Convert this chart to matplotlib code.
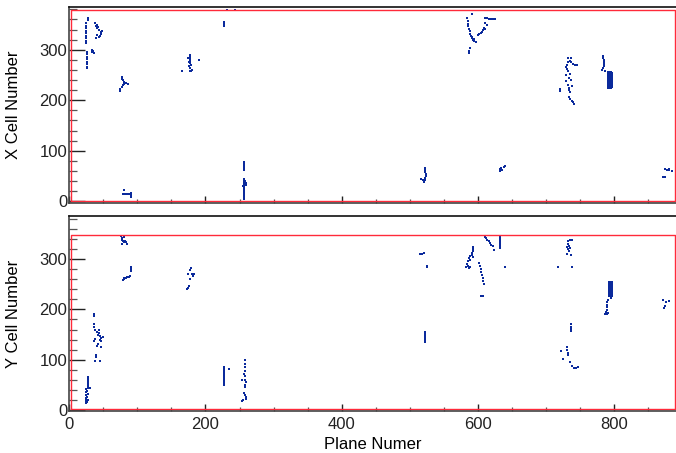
import numpy as np
import matplotlib
matplotlib.use("Agg")
import matplotlib.pyplot as plt
from matplotlib.ticker import MultipleLocator

plt.rcParams['font.family'] = ['Liberation Sans', 'DejaVu Sans']

# hits in the X view: (plane, cell)
xview_hits = [
    # planes ~25-48
    (25, 353), (25, 348), (25, 343), (25, 338), (25, 333), (25, 328), (25, 323), (25, 318), (25, 313),
    (26, 296), (26, 291), (26, 286), (26, 281), (26, 276), (26, 271), (26, 266), (26, 263), (28, 362), (27, 358),
    (38, 353), (39, 348), (40, 343), (42, 345), (44, 340), (46, 335), (47, 332), (45, 328), (41, 330),
    (39, 323), (43, 326), (48, 338), (40, 350), (33, 300), (35, 297), (37, 293), (34, 295),
    # plane ~80
    (78, 247), (78, 243), (79, 240), (80, 236), (81, 233), (84, 234), (86, 232), (79, 230), (77, 227),
    (75, 223), (74, 219),
    (80, 22), (79, 14), (81, 14), (83, 14), (85, 14), (87, 14), (90, 17), (90, 13), (90, 9),
    # plane ~177
    (177, 290), (177, 286), (178, 282), (178, 278), (177, 274), (179, 270), (176, 268), (178, 264),
    (177, 258), (179, 258), (180, 259), (165, 258), (191, 280), (175, 283), (176, 276),
    # plane ~230
    (227, 356), (227, 352), (227, 348), (231, 379), (243, 378),
    # plane ~257
    (257, 78), (257, 74), (257, 70), (257, 66), (257, 62), (257, 45), (257, 41), (257, 37), (257, 33),
    (257, 29), (257, 25), (257, 21), (257, 17), (257, 13), (257, 9), (257, 5), (259, 36), (260, 33),
    (258, 40), (255, 30),
    # plane ~523
    (523, 66), (523, 62), (523, 58), (524, 54), (524, 50), (523, 46), (522, 42), (521, 39), (517, 45), (519, 43),
    # planes ~584-626
    (584, 362), (585, 357), (585, 352), (586, 347), (587, 342), (588, 337), (589, 332), (590, 328),
    (591, 325), (592, 323), (594, 322), (593, 319), (595, 317), (597, 315), (591, 370), (588, 303),
    (587, 298), (587, 294), (600, 330), (602, 332), (604, 334), (606, 336), (608, 339), (610, 341),
    (609, 344), (610, 362), (613, 362), (616, 361), (619, 360), (622, 360), (625, 361), (613, 350), (611, 353),
    # plane ~635
    (632, 63), (634, 61), (634, 66), (636, 61), (638, 68), (640, 69), (633, 59),
    # planes ~720-745
    (733, 283), (737, 283), (733, 276), (735, 278), (737, 275), (740, 272), (743, 269), (745, 270),
    (731, 270), (730, 265), (731, 261), (733, 257), (735, 253), (729, 250), (734, 244), (737, 240),
    (729, 238), (720, 223), (721, 218), (733, 230), (734, 225), (734, 220), (736, 216), (738, 229),
    (734, 207), (736, 203), (738, 199), (740, 196), (741, 193),
    # planes ~783-798
    (784, 288), (784, 284), (785, 280), (785, 276), (785, 272), (785, 268), (784, 264), (783, 260), (786, 258),
    (791, 256), (791, 252), (791, 248), (791, 244), (791, 240), (791, 236), (791, 232), (791, 228), (791, 224),
    (793, 256), (793, 252), (793, 248), (793, 244), (793, 240), (793, 236), (793, 232), (793, 228), (793, 224),
    (795, 256), (795, 252), (795, 248), (795, 244), (795, 240), (795, 236), (795, 232), (795, 228), (795, 224),
    (797, 254), (797, 250), (797, 246), (797, 242), (797, 238), (797, 234), (797, 230), (797, 226),
    # plane ~878
    (875, 64), (878, 62), (881, 61), (885, 59), (880, 63), (872, 48), (875, 49),
]

# hits in the Y view: (plane, cell)
yview_hits = [
    (24, 13), (24, 17), (25, 20), (24, 23), (26, 26), (25, 29), (27, 32), (24, 35), (26, 38), (25, 41),
    (27, 43), (30, 44), (28, 48), (28, 52), (28, 56), (28, 60), (28, 64), (27, 66), (26, 16), (27, 20),
    (36, 190), (36, 186), (36, 170), (36, 166), (38, 160), (40, 155), (42, 150), (43, 160), (44, 153),
    (45, 148), (46, 144), (45, 140), (47, 138), (49, 145), (38, 141), (37, 137), (42, 131), (40, 128),
    (39, 106), (39, 110), (38, 97), (45, 97), (47, 126),
    (76, 346), (77, 342), (78, 338), (79, 335), (80, 333), (82, 336), (84, 334), (85, 331), (78, 331), (81, 344),
    (90, 285), (90, 281), (90, 277), (89, 267), (87, 265), (85, 264), (83, 262), (81, 261), (79, 259), (80, 262),
    (179, 282), (178, 278), (175, 270), (180, 270), (183, 271), (181, 266), (178, 260), (176, 247),
    (174, 243), (173, 240),
    (227, 86), (227, 82), (227, 78), (227, 74), (227, 70), (227, 66), (227, 62), (227, 58), (227, 54),
    (227, 50), (234, 82),
    (258, 99), (258, 92), (258, 85), (258, 78), (257, 72), (258, 68), (258, 60), (259, 55), (258, 50),
    (258, 46), (254, 60), (256, 34), (258, 30), (259, 26), (255, 20), (253, 18), (260, 22),
    (515, 310), (518, 311), (521, 312), (525, 287), (526, 285),
    (523, 156), (523, 152), (523, 148), (523, 144), (523, 140), (523, 136),
    (593, 325), (593, 321), (593, 317), (592, 313), (592, 309), (593, 305), (588, 306), (587, 302),
    (589, 298), (586, 297), (584, 290), (586, 287), (583, 284), (587, 282), (589, 284), (602, 292),
    (603, 286), (604, 280), (605, 274), (606, 268), (607, 262), (608, 256), (609, 250), (605, 227),
    (607, 226), (610, 344), (612, 341), (614, 338), (616, 335), (618, 332), (620, 329), (622, 326),
    (623, 318), (633, 346), (633, 342), (633, 338), (633, 334), (633, 330), (632, 326), (633, 322), (640, 284),
    (732, 336), (735, 337), (738, 337), (732, 330), (734, 327), (731, 324), (733, 320), (736, 322),
    (734, 316), (731, 311), (737, 309), (718, 284), (739, 284),
    (737, 170), (737, 166), (737, 162), (737, 157), (722, 118), (731, 126), (731, 120), (732, 114),
    (732, 109), (725, 101), (735, 96), (738, 88), (741, 83), (744, 84), (747, 85),
    (793, 254), (793, 250), (793, 246), (793, 242), (793, 238), (793, 234), (793, 230), (793, 226),
    (795, 255), (795, 251), (795, 247), (795, 243), (795, 239), (795, 235), (795, 231), (795, 227), (795, 223),
    (797, 254), (797, 250), (797, 246), (797, 242), (797, 238), (797, 234), (797, 230), (797, 226),
    (791, 219), (790, 214), (790, 209), (790, 204), (789, 199), (788, 194), (787, 190), (789, 191), (791, 192),
    (872, 219), (877, 214), (880, 217), (874, 202), (875, 206),
]

# detector boundary boxes (plane_lo, plane_hi, cell_lo, cell_hi)
xbox = (2.5, 889, 1, 379)
ybox = (2.5, 889, 1, 348)

hit_col = '#0b2a9c'
box_col = '#ff2a3a'

fig = plt.figure(figsize=(6.76, 4.53), dpi=100)
ax1 = fig.add_axes([0.1025, 0.5519, 0.8975, 0.4333])
ax2 = fig.add_axes([0.1025, 0.0927, 0.8975, 0.4305])


def draw_view(ax, hits, box, ylab, ylim):
    h = np.array(hits)
    ax.scatter(h[:, 0], h[:, 1], s=2.6, marker='s', c=hit_col, linewidths=0)
    p0, p1, c0, c1 = box
    ax.plot([p0, p1, p1, p0, p0], [c0, c0, c1, c1, c0], color=box_col, lw=1.0)
    ax.set_xlim(0, 891)
    ax.set_ylim(*ylim)
    ax.xaxis.set_major_locator(MultipleLocator(200))
    ax.xaxis.set_minor_locator(MultipleLocator(50))
    ax.yaxis.set_major_locator(MultipleLocator(100))
    ax.yaxis.set_minor_locator(MultipleLocator(20))
    ax.tick_params(axis='both', which='both', direction='in', top=False, right=False,
                   labelsize=12, colors='#222222')
    ax.tick_params(axis='y', which='major', length=11.5, width=1.0, pad=1.5)
    ax.tick_params(axis='y', which='minor', length=5.5, width=0.9, color='#555555')
    ax.tick_params(axis='x', which='major', length=4.8, width=1.0, pad=4)
    ax.tick_params(axis='x', which='minor', length=2.6, width=0.9, color='#555555')
    for s in ['left', 'bottom']:
        ax.spines[s].set_color('#444444')
        ax.spines[s].set_linewidth(1.2)
    ax.spines['top'].set_color('#111111')
    ax.spines['top'].set_linewidth(1.2)
    ax.spines['right'].set_visible(False)
    ax.set_ylabel(ylab, fontsize=12)
    ax.yaxis.set_label_coords(-0.079, 0.5)


draw_view(ax1, xview_hits, xbox, 'X Cell Number', (-3.4, 385.3))
draw_view(ax2, yview_hits, ybox, 'Y Cell Number', (-2, 385.7))
ax1.tick_params(axis='x', labelbottom=False)
ax2.set_xlabel('Plane Numer', fontsize=12)
ax2.xaxis.set_label_coords(0.5, -0.135)

fig.savefig('out.png', dpi=100)
